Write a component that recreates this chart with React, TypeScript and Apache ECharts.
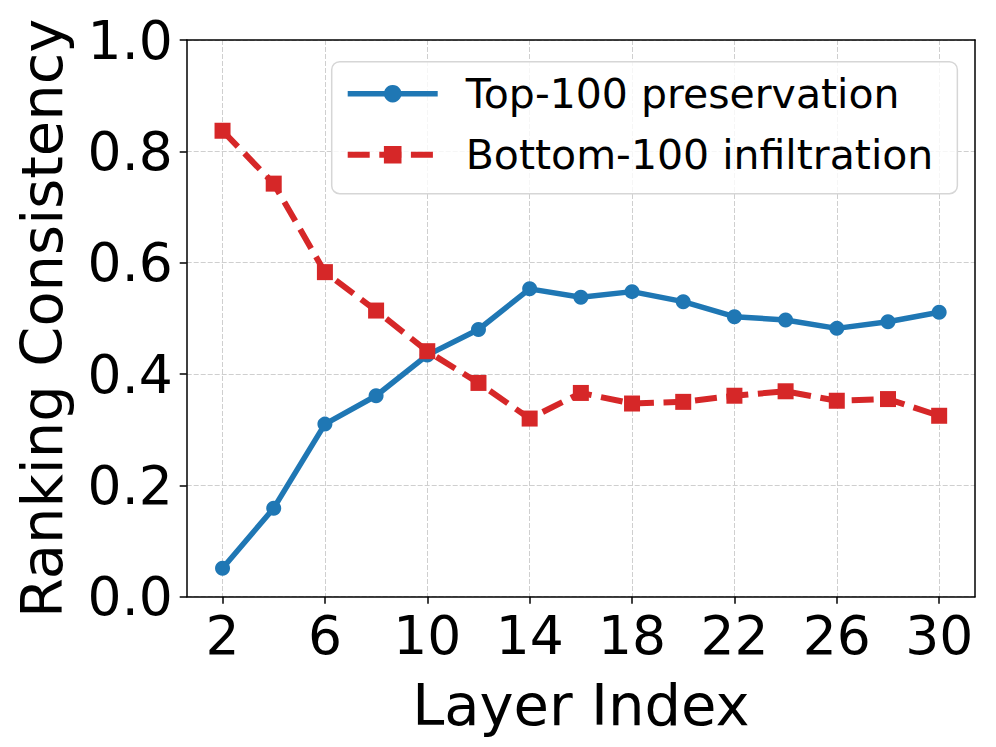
import React, { useEffect, useRef } from "react";
import * as echarts from "echarts";

const layers = [2, 4, 6, 8, 10, 12, 14, 16, 18, 20, 22, 24, 26, 28, 30];
const top100 = [0.051, 0.159, 0.31, 0.361, 0.434, 0.48, 0.553, 0.538, 0.548, 0.53, 0.503, 0.497, 0.482, 0.494, 0.511];
const bottom100 = [0.837, 0.742, 0.583, 0.514, 0.441, 0.384, 0.32, 0.366, 0.347, 0.35, 0.361, 0.369, 0.352, 0.355, 0.325];
const xTicks = [2, 6, 10, 14, 18, 22, 26, 30];
const seriesNames = ["Top-100 preservation", "Bottom-100 infiltration"];

const FONT = "DejaVu Sans";

export default function App() {
  const ref = useRef<HTMLDivElement>(null);
  useEffect(() => {
    if (!ref.current) return;
    const chart = echarts.init(ref.current, null, { renderer: "svg" });
    const grid = { lineStyle: { color: "#cfcfcf", type: [5, 2], width: 1 } };
    const frameAxis = {
      z: 10,
      axisLine: { show: true, onZero: false, lineStyle: { color: "#000", width: 1.5 } },
      axisTick: { show: false },
      axisLabel: { show: false },
      splitLine: { show: false },
    };
    chart.setOption({
      animation: false,
      backgroundColor: "#fff",
      grid: {
        left: 186.7,
        right: 21,
        top: 40,
        bottom: 150.3,
        containLabel: false,
        outerBoundsMode: "none",
      },
      legend: {
        left: 331.7,
        top: 61.7,
        orient: "vertical",
        itemWidth: 90,
        itemHeight: 22,
        itemGap: 13,
        padding: [8, 24, 15, 13],
        backgroundColor: "rgba(255,255,255,0.8)",
        borderColor: "#d6d6d6",
        borderWidth: 1.5,
        borderRadius: 8,
        lineStyle: { width: "inherit", type: "inherit" },
        textStyle: {
          fontFamily: FONT,
          fontSize: 41,
          lineHeight: 48,
          color: "#000",
          padding: [0, 0, 0, 23],
        },
        data: seriesNames,
      },
      xAxis: [
        {
          type: "value",
          min: 0.6,
          max: 31.4,
          name: "Layer Index",
          nameLocation: "middle",
          nameGap: 80,
          nameTextStyle: { fontFamily: FONT, fontSize: 57.6, color: "#000" },
          axisLine: { onZero: false, lineStyle: { color: "#000", width: 1.5 } },
          axisTick: { show: true, length: 7, lineStyle: { color: "#000", width: 1.5 }, customValues: xTicks },
          axisLabel: {
            customValues: xTicks,
            fontFamily: FONT,
            fontSize: 53.5,
            color: "#000",
            margin: 12,
          },
          splitLine: { show: true, ...grid },
        },
        { type: "value", min: 0.6, max: 31.4, position: "top", ...frameAxis },
      ],
      yAxis: [
        {
          type: "value",
          min: 0,
          max: 1,
          interval: 0.2,
          name: "Ranking Consistency",
          nameLocation: "middle",
          nameGap: 115,
          nameTextStyle: { fontFamily: FONT, fontSize: 57.6, color: "#000" },
          axisLine: { show: true, onZero: false, lineStyle: { color: "#000", width: 1.5 } },
          axisTick: { show: true, length: 7, lineStyle: { color: "#000", width: 1.5 } },
          axisLabel: {
            fontFamily: FONT,
            fontSize: 53.5,
            color: "#000",
            margin: 14,
            formatter: (v: number) => v.toFixed(1),
          },
          splitLine: { show: true, ...grid },
        },
        { type: "value", min: 0, max: 1, position: "right", ...frameAxis },
      ],
      series: [
        {
          name: seriesNames[0],
          type: "line",
          data: layers.map((x, i) => [x, top100[i]]),
          symbol: "circle",
          symbolSize: 15,
          itemStyle: { color: "#1f77b4" },
          lineStyle: { color: "#1f77b4", width: 5.5 },
          z: 3,
        },
        {
          name: seriesNames[1],
          type: "line",
          data: layers.map((x, i) => [x, bottom100[i]]),
          symbol: "rect",
          symbolSize: 16,
          itemStyle: { color: "#d62728" },
          lineStyle: { color: "#d62728", width: 6, type: [22, 9.6] },
          z: 4,
        },
      ],
    });
    return () => chart.dispose();
  }, []);
  return (
    <div
      ref={ref}
      style={{ position: "fixed", left: 0, top: 0, width: 996, height: 747 }}
    />
  );
}
